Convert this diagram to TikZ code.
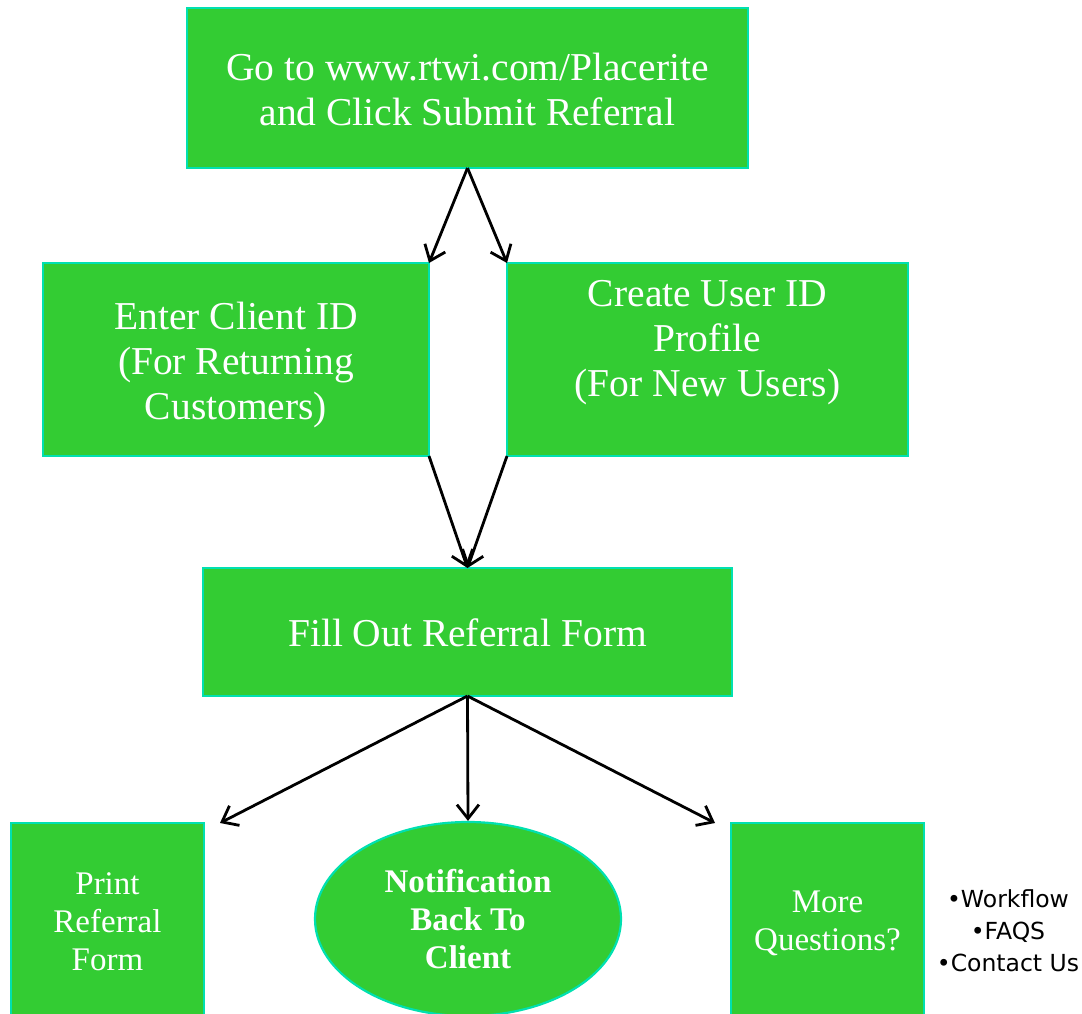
\documentclass[tikz,border=0pt]{standalone}
\usepackage{fontspec}
\setmainfont{Liberation Serif}
\newfontfamily\bulletfont{DejaVu Sans}
\usetikzlibrary{arrows.meta,shapes.geometric}
\definecolor{boxgreen}{HTML}{33CC33}
\definecolor{boxedge}{HTML}{00E0B0}
\tikzset{
  x=1pt,y=-1pt,
  gbox/.style={draw=boxedge,fill=boxgreen,line width=2.2pt,text=white,align=center,inner sep=0pt},
  bigtext/.style={text=white,align=center,font=\fontsize{39.5}{45}\selectfont},
  smalltext/.style={text=white,align=center,font=\fontsize{33}{38}\selectfont},
  conn/.style={line width=2.8pt,-{Straight Barb[length=14pt,width=22pt,line width=2.8pt]}},
}
\begin{document}
\begin{tikzpicture}
\useasboundingbox (0,0) rectangle (1082,1014);
\clip (0,0) rectangle (1082,1014);
% boxes
\draw[gbox] (187,8) rectangle (748,168);
\node[bigtext] (top) at (467.5,89) {Go to www.rtwi.com/Placerite\\and Click Submit Referral};
\coordinate (topb) at (467.5,168);
\draw[gbox] (43,263) rectangle (429,456);
\node[bigtext] (left) at (236,365) {Enter Client ID\\(For Returning\\Customers)};
\coordinate (lefttr) at (429,263);
\coordinate (leftbr) at (429,456);
\draw[gbox] (507,263) rectangle (908,456);
\node[bigtext] (right) at (707.5,343) {Create User ID\\Profile\\(For New Users)};
\coordinate (righttl) at (507,263);
\coordinate (rightbl) at (507,456);
\draw[gbox] (203,568) rectangle (732,696);
\node[bigtext] (fill) at (467.5,633) {Fill Out Referral Form};
\coordinate (fillt) at (467.5,568);
\coordinate (fillb) at (467.5,696);
\draw[gbox] (11,823) rectangle (204,1030);
\node[smalltext] (print) at (107.5,922) {Print\\Referral\\Form};
\coordinate (printt) at (220,823);
\node[gbox,ellipse,minimum width=306pt,minimum height=194pt] (notif) at (468,919) {};
\node[smalltext,font=\fontsize{33}{38}\selectfont\bfseries] at (notif.center) {Notification\\Back To\\Client};
\draw[gbox] (731,823) rectangle (924,1030);
\node[smalltext] (more) at (827.5,923) {More\\Questions?};
\coordinate (moret) at (715,823);
\node[font=\bulletfont\fontsize{23.5}{32}\selectfont,align=center] (list) at (1008,931) {•Workflow\\•FAQS\\•Contact Us};
% connectors
\draw[conn] (topb) -- (lefttr);
\draw[conn] (topb) -- (righttl);
\draw[conn] (leftbr) -- (fillt);
\draw[conn] (rightbl) -- (fillt);
\draw[conn] (fillb) -- (printt);
\draw[conn] (fillb) -- (notif.north);
\draw[conn] (fillb) -- (moret);
\end{tikzpicture}
\end{document}
